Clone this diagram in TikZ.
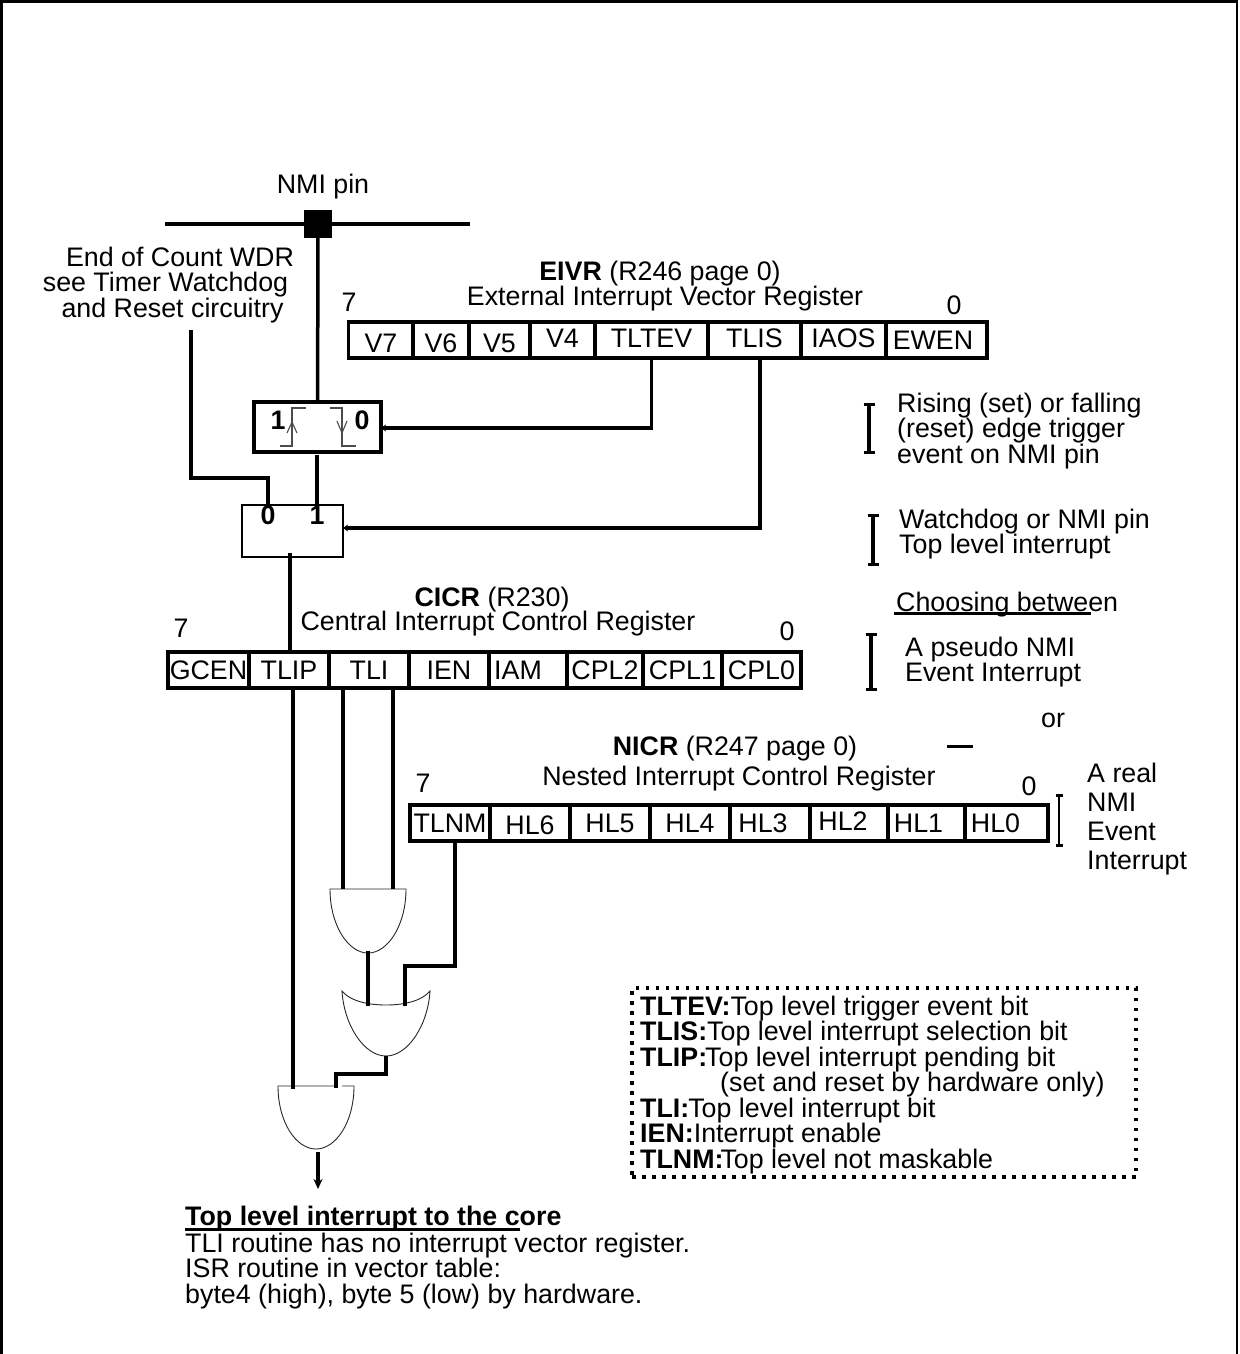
\documentclass[tikz,border=0pt]{standalone}
\usepackage{fontspec}
\setmainfont{Liberation Sans}
\usetikzlibrary{arrows.meta}
\tikzset{
  lbl/.style={font=\fontsize{26.8}{25.5}\selectfont,inner sep=0pt,anchor=base},
  lblw/.style={lbl,anchor=base west},
  blk/.style={lblw,anchor=north west,align=left},
  bit/.style={lbl,font=\fontsize{26.8}{25.5}\selectfont\bfseries},
  cell/.style={draw,line width=3.5pt,minimum height=36,inner sep=0pt,outer sep=0pt,font=\fontsize{26.8}{25.5}\selectfont,text height=19.2,text depth=0},
  wire/.style={line width=3.5pt},
  ar/.style={wire,-{Stealth[length=5pt,width=7pt]}},
  gate/.style={line width=0.9pt,black!85},
  wave/.style={line width=1.1pt,black!70},
  brk/.style={line width=3.5pt,{Bar[width=11pt,line width=3pt]}-{Bar[width=11pt,line width=3pt]}},
  brkb/.style={line width=2.5pt,{Bar[width=7pt,line width=3pt]}-{Bar[width=7pt,line width=3pt]}}
}
\begin{document}
\begin{tikzpicture}[x=1pt,y=-1pt]
\useasboundingbox (0,0) rectangle (1239,1354);

% frame, open at the bottom
\draw[line width=2.5pt] (1.5,1354)--(1.5,1.5)--(1237,1.5)--(1237,1354);

% NMI pin
\node[lbl] (nmi) at (323,193) {NMI pin};
\coordinate (pinl) at (165,224);
\coordinate (pinr) at (470,224);
\node[fill=black,minimum size=28,inner sep=0pt,outer sep=0pt] (pinpad) at (318,224) {};
\draw[wire] (pinl)--(pinr);

\node[lbl] (wdra) at (180,266) {End of Count WDR};
\node[lbl] (wdrb) at (165.5,291) {see Timer Watchdog};
\node[lbl] (wdrc) at (172.5,317) {and Reset circuitry};

% EIVR
\node[lbl] (eivrt) at (660,280) {\textbf{EIVR} (R246 page 0)};
\node[lbl] (eivrn) at (665,305) {External Interrupt Vector Register};
\node[lbl] (eivr7) at (349,311) {7};
\node[lbl] (eivr0) at (954,314) {0};
\node[cell,minimum width=65] (v7) at (381,340) {\raisebox{-3pt}{V7}};
\node[cell,minimum width=56] (v6) at (441,340) {\raisebox{-3pt}{V6}};
\node[cell,minimum width=61] (v5) at (499.5,340) {\raisebox{-3pt}{V5}};
\node[cell,minimum width=65] (v4) at (562.5,340) {\raisebox{2pt}{V4}};
\node[cell,minimum width=113] (tltev) at (651.5,340) {\raisebox{2pt}{TLTEV}};
\node[cell,minimum width=93] (tlis) at (754.5,340) {\raisebox{2pt}{TLIS}};
\node[cell,minimum width=85] (iaos) at (843.5,340) {\raisebox{2pt}{IAOS}};
\node[cell,minimum width=101] (ewen) at (936.5,340) {EWEN\kern7pt};

% edge select and source select
\node[draw,line width=3.5pt,minimum width=127,minimum height=50,inner sep=0pt,outer sep=0pt] (edgebox) at (317.5,427) {};
\node[draw,line width=1.4pt,minimum width=101,minimum height=52,inner sep=0pt,outer sep=0pt] (muxbox) at (292.5,531) {};
\node[bit] (edge1) at (278,429) {1};
\node[bit] (edge0) at (362,429) {0};
\node[bit] (mux0) at (268,524) {0};
\node[bit] (mux1) at (317,524) {1};
\draw[wave] (280,446)--(292,446)--(292,408)--(306,408);
\draw[wave] (287,433)--(292,422)--(297,433);
\draw[wave] (330,408)--(342,408)--(342,446)--(356,446);
\draw[wave] (337,421)--(342,433)--(347,421);

\coordinate (wdrend) at (191,330);
\coordinate (wdrbend) at (268,478);
\coordinate (muxin0) at (268,505);
\coordinate (muxin1) at (317,505);
\coordinate (edgeout) at (317,455);
\coordinate (muxout) at (290,553);
\coordinate (edgein) at (381,428);
\coordinate (muxin) at (343,528);
\coordinate (tlisout) at (760,358);
\draw[wire] (pinpad)--(edgebox);
\draw[wire] (edgeout)--(muxin1);
\draw[wire] (wdrend)|-(wdrbend)--(muxin0);
\draw[ar] (tltev.south)|-(edgein);
\draw[ar] (tlisout)|-(muxin);

% CICR
\node[lbl] (cicrt) at (492,606) {\textbf{CICR} (R230)};
\node[lbl] (cicrn) at (498,630) {Central Interrupt Control Register};
\node[lbl] (cicr7) at (181,637) {7};
\node[lbl] (cicr0) at (787,640) {0};
\node[cell,minimum width=81] (gcen) at (208.5,670) {GCEN};
\node[cell,minimum width=80] (tlip) at (289,670) {TLIP};
\node[cell,minimum width=80] (tli) at (369,670) {TLI};
\node[cell,minimum width=80] (ien) at (449,670) {IEN};
\node[cell,minimum width=78] (iam) at (528,670) {IAM\kern20pt};
\node[cell,minimum width=76] (cpl2) at (605,670) {CPL2};
\node[cell,minimum width=79] (cpl1) at (682.5,670) {CPL1};
\node[cell,minimum width=79] (cpl0) at (761.5,670) {CPL0};
\coordinate (cicrin) at (290,652);
\draw[wire] (muxout)--(cicrin);

% NICR
\node[lbl] (nicrt) at (735,755) {\textbf{NICR} (R247 page 0)};
\node[lbl] (nicrn) at (739,785) {Nested Interrupt Control Register};
\node[lbl] (nicr7) at (423,792) {7};
\node[lbl] (nicr0) at (1029,795) {0};
\node[cell,minimum width=80] (tlnm) at (450,823) {TLNM};
\node[cell,minimum width=80] (hl6) at (530,823) {\raisebox{-2pt}{HL6}};
\node[cell,minimum width=80] (hl5) at (610,823) {HL5};
\node[cell,minimum width=80] (hl4) at (690,823) {HL4};
\node[cell,minimum width=80] (hl3) at (770,823) {HL3\kern14pt};
\node[cell,minimum width=78] (hl2) at (849,823) {\raisebox{2pt}{HL2}\kern12pt};
\node[cell,minimum width=77] (hl1) at (926.5,823) {HL1\kern16pt};
\node[cell,minimum width=83] (hl0) at (1006.5,823) {HL0\kern22pt};

% gates
\coordinate (anda) at (368,951);
\coordinate (oraa) at (368,1006);
\coordinate (orab) at (405,1006);
\coordinate (orout) at (386,1056);
\coordinate (orbend) at (386,1074);
\coordinate (andba) at (293,1089);
\coordinate (andbb) at (336,1088);
\coordinate (andout) at (318,1152);
\coordinate (coreout) at (318,1189);
\coordinate (tlip1) at (293,688);
\coordinate (tli1) at (343,688);
\coordinate (tli2) at (393,688);
\coordinate (anda1) at (343,889);
\coordinate (anda2) at (393,889);
\coordinate (tlnm1) at (455,841);
\coordinate (tlnmbend) at (455,966);
\draw[gate] (330,889)--(406,889) .. controls (406,925) and (388,953) .. (368,953) .. controls (348,953) and (330,925) .. (330,889)--cycle;
\draw[gate] (342,991) .. controls (350,1001) and (368,1005) .. (386,1005) .. controls (404,1005) and (422,1001) .. (430,991) .. controls (428,1025) and (408,1056) .. (386,1056) .. controls (364,1056) and (344,1025) .. (342,991)--cycle;
\draw[gate] (337,1086)--(278,1086) .. controls (278,1122) and (296,1149) .. (316,1149) .. controls (336,1149) and (354,1122) .. (354,1086)--(342,1086);
\draw[wire] (tlip1)--(andba);
\draw[wire] (tli1)--(anda1);
\draw[wire] (tli2)--(anda2);
\draw[wire] (anda)--(oraa);
\draw[wire] (tlnm1)--(tlnmbend)-|(orab);
\draw[wire] (orout)--(orbend)-|(andbb);
\draw[wire,-{Stealth[length=10pt,width=9pt]}] (andout)--(coreout);

% notes on the right
\draw[brk] (869,403)--(869,454);
\node[blk] (edgenote) at (897,392.5) {Rising (set) or falling\\(reset) edge trigger\\event on NMI pin};
\draw[brk] (873,514)--(873,566);
\node[blk] (topnote) at (899,508.5) {Watchdog or NMI pin\\Top level interrupt};
\node[lblw] (choose) at (896,611) {Choosing between};
\draw[line width=2.5pt] (894,613.5)--(1091,613.5);
\draw[brk] (871,633)--(871,691);
\node[blk] (pseudo) at (905,636.5) {A pseudo NMI\\Event Interrupt};
\node[lbl] (ornote) at (1053,727) {or};
\draw[line width=3pt] (947,746)--(973,746);
\draw[brkb] (1059,794)--(1059,847);
\node[blk] (realnmi) at (1087,763) {A real\\[3.5pt]NMI\\[3.5pt]Event\\[3.5pt]Interrupt};

% legend
\node[draw,line width=3.5pt,dash pattern=on 3.5pt off 6.5pt,minimum width=504,minimum height=189,inner sep=0pt] (legbox) at (884,1082.5) {};
\node[blk] (legtxt) at (640,995.5) {\textbf{TLTEV:}Top level trigger event bit\\\textbf{TLIS:}Top level interrupt selection bit\\\textbf{TLIP:}\hspace{-2pt}Top level interrupt pending bit\\\hspace{80pt}(set and reset by hardware only)\\\textbf{TLI:}\hspace{-1pt}Top level interrupt bit\\\textbf{IEN:}Interrupt enable\\\textbf{TLNM:}\hspace{-3pt}Top level not maskable};

% core note
\node[lblw] (corehd) at (185,1225) {\textbf{Top level interrupt to the core}};
\draw[line width=2.5pt] (185,1229.5)--(520,1229.5);
\node[blk] (corenote) at (185,1232.5) {TLI routine has no interrupt vector register.\\ISR routine in vector table:\\byte4 (high), byte 5 (low) by hardware.};
\end{tikzpicture}
\end{document}
